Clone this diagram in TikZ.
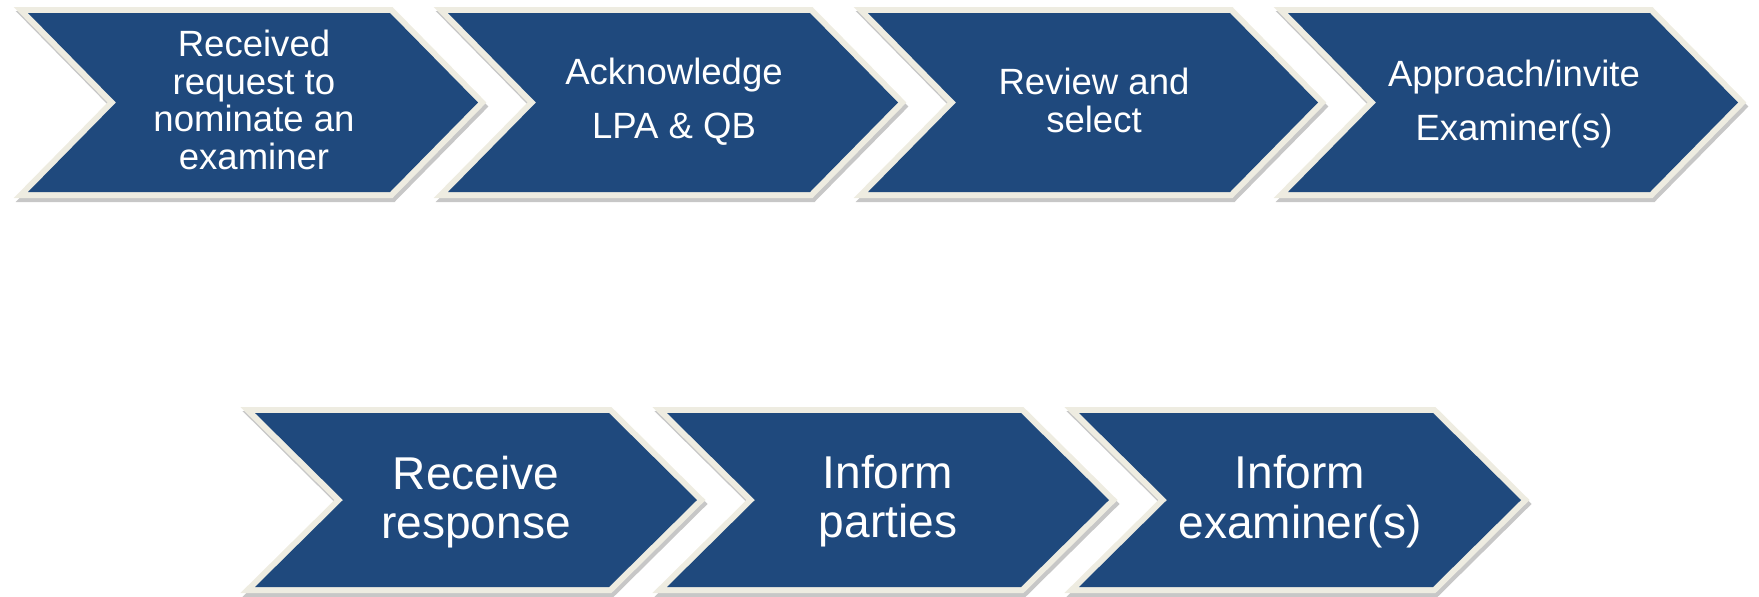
\documentclass[tikz,border=0pt]{standalone}
\usepackage{fontspec}
\setmainfont{Liberation Sans}
\usepackage[]{xcolor}
\usepackage{tikz}
\definecolor{chevblue}{HTML}{1F497D}
\definecolor{rimbeige}{HTML}{EEECE1}

\begin{document}
\begin{tikzpicture}[x=.02cm, y=-.02cm,
    chevron/.style={line join=miter,
        preaction={draw=black, opacity=.22, line width=.24cm,
            transform canvas={xshift=.04cm, yshift=-.08cm}},
        preaction={draw=rimbeige, line width=.24cm},
        fill=chevblue},
    chevtext/.style={text=white, align=center, inner sep=0pt},
    toptext/.style={chevtext, font=\fontsize{20.8}{21.5}\selectfont},
    bottext/.style={chevtext, font=\fontsize{26.2}{27.9}\selectfont}]
    \useasboundingbox (0,0) rectangle (1759,596);
    % top row
    \path[chevron] (28,13) -- ++(362,0) -- ++(88,89.5) -- ++(-88,89.5) -- ++(-362,0) -- ++(88,-89.5) -- cycle;
    \path[chevron] (448,13) -- ++(362,0) -- ++(88,89.5) -- ++(-88,89.5) -- ++(-362,0) -- ++(88,-89.5) -- cycle;
    \path[chevron] (868,13) -- ++(362,0) -- ++(88,89.5) -- ++(-88,89.5) -- ++(-362,0) -- ++(88,-89.5) -- cycle;
    \path[chevron] (1288,13) -- ++(362,0) -- ++(88,89.5) -- ++(-88,89.5) -- ++(-362,0) -- ++(88,-89.5) -- cycle;
    \node[toptext] (received) at (254,100) {Received\\request to\\nominate an\\examiner};
    \node[toptext] (acknowledge) at (674,101.7) {Acknowledge\\[9.2pt]LPA \& QB};
    \node[toptext] (review) at (1094,100.5) {Review and\\select};
    \node[toptext] (approach) at (1514,104) {Approach/invite\\[9.2pt]Examiner(s)};
    % bottom row
    \path[chevron] (255,413) -- ++(354,0) -- ++(88,87) -- ++(-88,87) -- ++(-354,0) -- ++(88,-87) -- cycle;
    \path[chevron] (667,413) -- ++(354,0) -- ++(88,87) -- ++(-88,87) -- ++(-354,0) -- ++(88,-87) -- cycle;
    \path[chevron] (1079,413) -- ++(354,0) -- ++(88,87) -- ++(-88,87) -- ++(-354,0) -- ++(88,-87) -- cycle;
    \node[bottext] (receive) at (476,501.8) {Receive\\response};
    \node[bottext] (informparties) at (888,501.6) {Inform\\parties};
    \node[bottext] (informexaminer) at (1300,501.6) {Inform\\examiner(s)};
\end{tikzpicture}
\end{document}
